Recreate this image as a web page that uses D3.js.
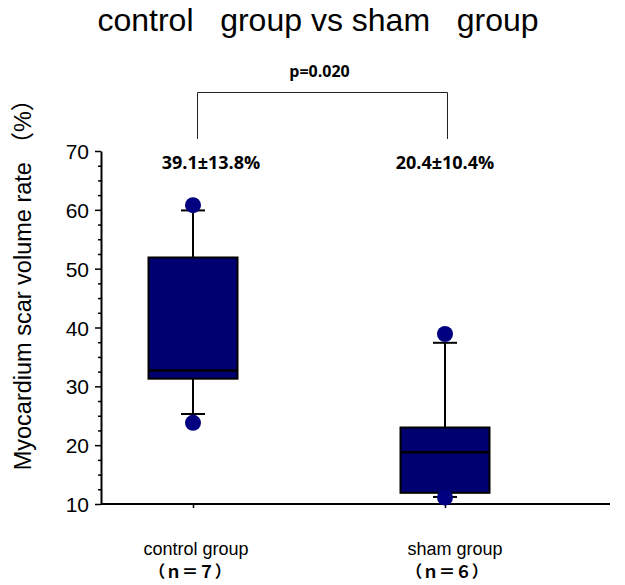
<!DOCTYPE html>
<html>
<head>
<meta charset="utf-8">
<script src="https://cdn.jsdelivr.net/npm/d3@7"></script>
<style>
  html, body { margin: 0; padding: 0; background: #fff; }
  svg { display: block; }
</style>
</head>
<body>
<svg id="chart" width="625" height="585"></svg>
<script>
// ---- data ----
const groups = ["control group", "sham group"];
const nLabels = ["（ｎ＝７）", "（ｎ＝６）"];
const meanLabels = ["39.1±13.8%", "20.4±10.4%"];
const q1 = [31.3, 11.9];
const median = [32.7, 18.8];
const q3 = [51.9, 23.0];
const whiskerLow = [25.3, 11.2];
const whiskerHigh = [59.9, 37.4];
const minPoint = [23.8, 11.1];
const maxPoint = [60.8, 38.9];
const yTicks = [10, 20, 30, 40, 50, 60, 70];
const yMinorTicks = [12.5, 15, 17.5, 22.5, 25, 27.5, 32.5, 35, 37.5, 42.5, 45, 47.5, 52.5, 55, 57.5, 62.5, 65, 67.5];
const pLabel = "p=0.020";
const title = "control   group vs sham   group";
const yTitle = "Myocardium scar volume rate （%）";

// ---- layout ----
const svg = d3.select("#chart");
const axisLeftX = 101, axisRightX = 610;
const y = d3.scaleLinear().domain([10, 70]).range([504, 151]);
const x = d3.scalePoint().domain(groups).range([193, 445]);
const boxW = 89, capW = 24, r = 8;
const fill = "#000070";

const rows = groups.map((g, i) => ({
  g, i, q1: q1[i], med: median[i], q3: q3[i], lo: whiskerLow[i], hi: whiskerHigh[i],
  pmin: minPoint[i], pmax: maxPoint[i], n: nLabels[i], mean: meanLabels[i]
}));

// title
svg.append("text")
  .attr("x", 318).attr("y", 31)
  .attr("text-anchor", "middle")
  .attr("font-family", "'Liberation Sans', Arial, sans-serif")
  .attr("font-size", 32)
  .style("white-space", "pre")
  .attr("xml:space", "preserve")
  .text(title);

// y axis
const gy = svg.append("g").attr("transform", `translate(${axisLeftX},0)`);
gy.call(d3.axisLeft(y).tickValues(yTicks).tickSize(6).tickSizeOuter(0).tickPadding(6));
gy.select(".domain").attr("stroke", "#000").attr("stroke-width", 2);
gy.selectAll(".tick line").attr("stroke", "#000").attr("stroke-width", 1.5);
gy.selectAll(".tick text")
  .attr("font-family", "'Liberation Sans', Arial, sans-serif")
  .attr("font-size", 21).attr("fill", "#000").attr("dy", "0.36em");
const gyMinor = svg.append("g").attr("transform", `translate(${axisLeftX},0)`);
gyMinor.call(d3.axisLeft(y).tickValues(yMinorTicks).tickSize(3).tickFormat(""));
gyMinor.select(".domain").remove();
gyMinor.selectAll(".tick line").attr("stroke", "#000").attr("stroke-width", 1.5);

// x axis
svg.append("line")
  .attr("x1", axisLeftX).attr("x2", axisRightX)
  .attr("y1", y(10)).attr("y2", y(10))
  .attr("stroke", "#000").attr("stroke-width", 2);
const gx = svg.append("g").attr("transform", `translate(0,${y(10)})`);
gx.call(d3.axisBottom(x).tickSize(4).tickFormat(""));
gx.select(".domain").remove();
gx.selectAll(".tick line").attr("stroke", "#000").attr("stroke-width", 1.5);

// y title
svg.append("text")
  .attr("transform", `translate(31,279) rotate(-90)`)
  .attr("text-anchor", "middle")
  .attr("font-family", "'Liberation Sans', Arial, 'Noto Sans CJK JP', sans-serif")
  .attr("font-size", 23.5)
  .text(yTitle);

// category labels
const catOffsets = [3, 10];
const nOffsets = [-3, 2];
svg.selectAll(".cat").data(rows).join("text")
  .attr("class", "cat")
  .attr("x", d => x(d.g) + catOffsets[d.i]).attr("y", 555)
  .attr("text-anchor", "middle")
  .attr("font-family", "'Liberation Sans', Arial, sans-serif")
  .attr("font-size", 18)
  .text(d => d.g);
svg.selectAll(".nlab").data(rows).join("text")
  .attr("class", "nlab")
  .attr("x", d => x(d.g) + nOffsets[d.i]).attr("y", 578)
  .attr("text-anchor", "middle")
  .attr("font-family", "'Noto Sans CJK JP', sans-serif")
  .attr("font-weight", "bold")
  .attr("font-size", 16.5)
  .text(d => d.n);

// whiskers
const gb = svg.append("g");
gb.selectAll(".wh").data(rows).join("line")
  .attr("x1", d => x(d.g)).attr("x2", d => x(d.g))
  .attr("y1", d => y(d.lo)).attr("y2", d => y(d.hi))
  .attr("stroke", "#000").attr("stroke-width", 2);
gb.selectAll(".capHi").data(rows).join("line")
  .attr("x1", d => x(d.g) - capW / 2).attr("x2", d => x(d.g) + capW / 2)
  .attr("y1", d => y(d.hi)).attr("y2", d => y(d.hi))
  .attr("stroke", "#000").attr("stroke-width", 2);
gb.selectAll(".capLo").data(rows).join("line")
  .attr("x1", d => x(d.g) - capW / 2).attr("x2", d => x(d.g) + capW / 2)
  .attr("y1", d => y(d.lo)).attr("y2", d => y(d.lo))
  .attr("stroke", "#000").attr("stroke-width", 2);

// boxes
gb.selectAll(".box").data(rows).join("rect")
  .attr("x", d => x(d.g) - boxW / 2).attr("width", boxW)
  .attr("y", d => y(d.q3)).attr("height", d => y(d.q1) - y(d.q3))
  .attr("fill", fill).attr("stroke", "#000").attr("stroke-width", 2);
gb.selectAll(".med").data(rows).join("line")
  .attr("x1", d => x(d.g) - boxW / 2).attr("x2", d => x(d.g) + boxW / 2)
  .attr("y1", d => y(d.med)).attr("y2", d => y(d.med))
  .attr("stroke", "#000").attr("stroke-width", 2.5);

// points
const pts = rows.flatMap(d => [{ g: d.g, v: d.pmax }, { g: d.g, v: d.pmin }]);
gb.selectAll(".pt").data(pts).join("circle")
  .attr("cx", d => x(d.g)).attr("cy", d => y(d.v)).attr("r", r)
  .attr("fill", "#000080");

// mean labels
const meanOffsets = [18, 0];
svg.selectAll(".mean").data(rows).join("text")
  .attr("x", d => x(d.g) + meanOffsets[d.i]).attr("y", 169)
  .attr("text-anchor", "middle")
  .attr("font-family", "'Open Sans', sans-serif")
  .attr("font-weight", "bold")
  .attr("font-size", 18)
  .text(d => d.mean);

// significance bracket
const bx1 = Math.round(x(groups[0]) + 4) + 0.5, bx2 = Math.round(x(groups[1]) + 2) + 0.5, by = 92.5, byEnd = 139;
svg.append("path")
  .attr("d", `M${bx1},${byEnd}V${by}H${bx2}V${byEnd}`)
  .attr("fill", "none").attr("stroke", "#222").attr("stroke-width", 1);
svg.append("text")
  .attr("x", (bx1 + bx2) / 2 - 3).attr("y", 77)
  .attr("text-anchor", "middle")
  .attr("font-family", "'Open Sans', sans-serif")
  .attr("font-weight", "bold")
  .attr("font-size", 16)
  .text(pLabel);
</script>
</body>
</html>
